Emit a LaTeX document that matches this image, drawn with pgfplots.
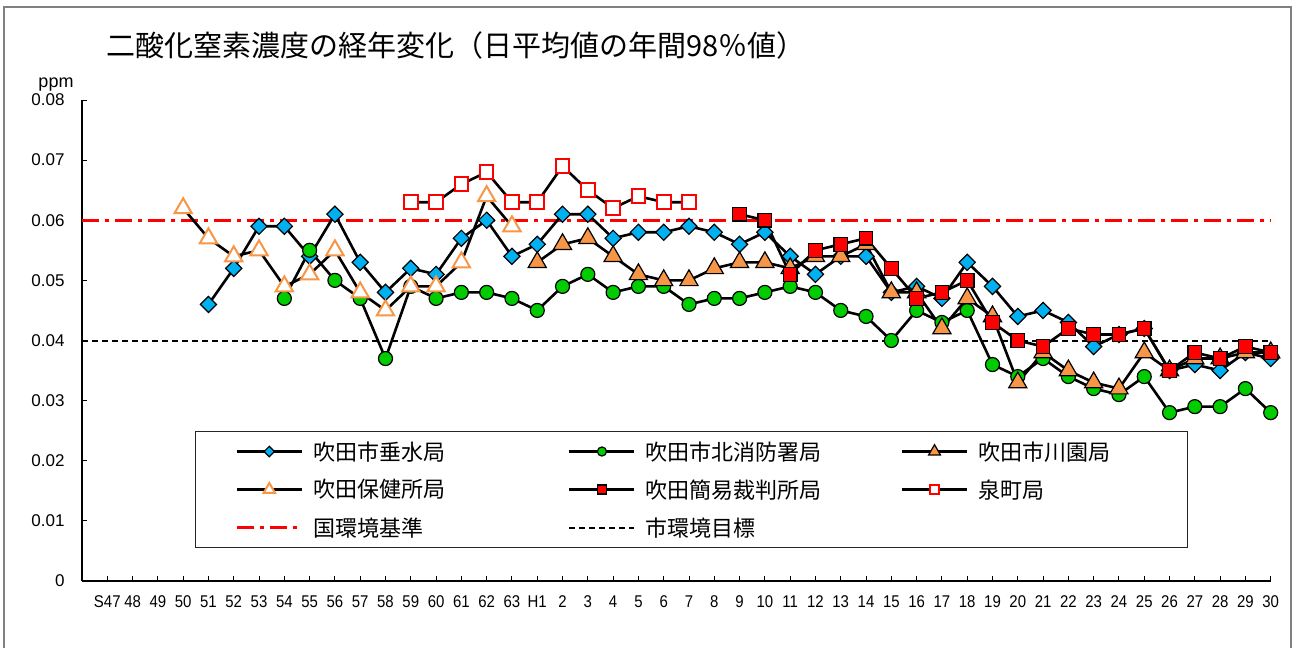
\documentclass[border=0pt]{standalone}
\usepackage{fontspec}
\usepackage{pgfplots}
\pgfplotsset{compat=1.18}
\setmainfont{Liberation Sans}
\newfontfamily\jp{Noto Sans CJK JP}
\newfontfamily\tickfont{Liberation Sans}
\newfontfamily\tickfontx[FakeStretch=0.88]{Liberation Sans}
\definecolor{cblue}{RGB}{0,176,240}
\definecolor{cgreen}{RGB}{0,204,0}
\definecolor{corange}{RGB}{247,150,70}
\definecolor{cred}{RGB}{255,0,0}
\begin{document}
\begin{tikzpicture}[x=1pt,y=1pt]
\useasboundingbox (0,0) rectangle (1296,648);
\draw[black!50, line width=1.5pt] (4,-10) -- (4,641) -- (1291,641) -- (1291,-10);
\node[anchor=west, inner sep=0pt, font=\jp\fontsize{29}{33}\selectfont] at (106,603) {二酸化窒素濃度の経年変化（日平均値の年間98％値）};
\node[inner sep=0pt, font=\tickfont\fontsize{18}{20}\selectfont] at (56,563) {ppm};
\begin{axis}[
  at={(82pt,67pt)}, anchor=south west,
  scale only axis, width=1188.7pt, height=481pt,
  xmin=-1, xmax=46, ymin=0, ymax=0.08,
  axis x line*=bottom, axis y line*=left,
  axis line style={-, line width=1.2pt, black},
  clip=false,
  tick align=inside, major tick length=5pt,
  tick style={line width=1pt, black},
  xtick={0,...,46},
  xticklabels={S47,48,49,50,51,52,53,54,55,56,57,58,59,60,61,62,63,H1,2,3,4,5,6,7,8,9,10,11,12,13,14,15,16,17,18,19,20,21,22,23,24,25,26,27,28,29,30},
  ytick={0,0.01,0.02,0.03,0.04,0.05,0.06,0.07,0.08},
  yticklabels={0,0.01,0.02,0.03,0.04,0.05,0.06,0.07,0.08},
  scaled y ticks=false,
  xticklabel style={font=\tickfontx\fontsize{17}{19}\selectfont, yshift=-11pt},
  yticklabel style={font=\tickfont\fontsize{17}{19}\selectfont, xshift=-14pt},
  legend columns=3,
  legend cell align=left,
  legend style={at={(rel axis cs:0.0951,0.0686)}, anchor=south west,
    draw=black!85, line width=1pt, inner xsep=40pt, inner ysep=1pt,
    column sep=0pt, row sep=0pt,
    font=\jp\fontsize{22}{24}\selectfont,
    nodes={inner xsep=10pt, inner ysep=0pt, minimum height=38pt}},
  legend image code/.code={\draw[mark repeat=2,mark phase=2,#1] plot coordinates {(0pt,0pt) (32.5pt,0pt) (65pt,0pt)};},
  legend image post style={every mark/.append style={scale=0.65}},
]
% reference lines (drawn underneath)
\addplot[forget plot, cred, line width=2.5pt, dash pattern=on 17pt off 6pt on 4pt off 6pt] coordinates {(-1,0.06) (46,0.06)};
\addplot[forget plot, black, line width=2pt, dash pattern=on 6pt off 4pt] coordinates {(-1,0.04) (46,0.04)};

% 吹田市垂水局
\addplot[black, line width=2.6pt, mark=square*, mark size=5.7pt, mark options={rotate=45, fill=cblue, draw=black, line width=1.2pt}] coordinates {
(4,0.046) (5,0.052) (6,0.059) (7,0.059) (8,0.054) (9,0.061) (10,0.053) (11,0.048) (12,0.052) (13,0.051)
(14,0.057) (15,0.060) (16,0.054) (17,0.056) (18,0.061) (19,0.061) (20,0.057) (21,0.058) (22,0.058) (23,0.059)
(24,0.058) (25,0.056) (26,0.058) (27,0.054) (28,0.051) (29,0.054) (30,0.054) (31,0.048) (32,0.049) (33,0.047)
(34,0.053) (35,0.049) (36,0.044) (37,0.045) (38,0.043) (39,0.039) (40,0.041) (41,0.042) (42,0.035) (43,0.036)
(44,0.035) (45,0.038) (46,0.037)};
\addlegendentry{\makebox[245pt][l]{吹田市垂水局}}

% 吹田市北消防署局
\addplot[black, line width=2.6pt, mark=*, mark size=7pt, mark options={fill=cgreen, draw=black, line width=1.2pt}] coordinates {
(7,0.047) (8,0.055) (9,0.050) (10,0.047) (11,0.037) (12,0.049) (13,0.047) (14,0.048) (15,0.048) (16,0.047)
(17,0.045) (18,0.049) (19,0.051) (20,0.048) (21,0.049) (22,0.049) (23,0.046) (24,0.047) (25,0.047) (26,0.048)
(27,0.049) (28,0.048) (29,0.045) (30,0.044) (31,0.040) (32,0.045) (33,0.043) (34,0.045) (35,0.036) (36,0.034)
(37,0.037) (38,0.034) (39,0.032) (40,0.031) (41,0.034) (42,0.028) (43,0.029) (44,0.029) (45,0.032) (46,0.028)};
\addlegendentry{\makebox[245pt][l]{吹田市北消防署局}}

% 吹田市川園局
\addplot[black, line width=2.6pt, mark=triangle*, mark size=10.5pt, mark options={fill=corange, draw=black, line width=1.2pt}] coordinates {
(17,0.053) (18,0.056) (19,0.057) (20,0.054) (21,0.051) (22,0.050) (23,0.050) (24,0.052) (25,0.053) (26,0.053)
(27,0.052) (28,0.054) (29,0.054) (30,0.056) (31,0.048) (32,0.048) (33,0.042) (34,0.047) (35,0.044) (36,0.033)
(37,0.038) (38,0.035) (39,0.033) (40,0.032) (41,0.038) (42,0.035) (43,0.037) (44,0.037) (45,0.038) (46,0.038)};
\addlegendentry{\makebox[159pt][l]{吹田市川園局}}

% 吹田保健所局
\addplot[black, line width=2.6pt, mark=triangle*, mark size=10pt, mark options={fill=white, draw=corange, line width=2pt}] coordinates {
(3,0.062) (4,0.057) (5,0.054) (6,0.055) (7,0.049) (8,0.051) (9,0.055) (10,0.048) (11,0.045) (12,0.049)
(13,0.049) (14,0.053) (15,0.064) (16,0.059)};
\addlegendentry{\makebox[245pt][l]{吹田保健所局}}

% 吹田簡易裁判所局
\addplot[black, line width=2.6pt, mark=square*, mark size=6.8pt, mark options={fill=cred, draw=black, line width=1.2pt}] coordinates {
(25,0.061) (26,0.060) (27,0.051) (28,0.055) (29,0.056) (30,0.057) (31,0.052) (32,0.047) (33,0.048) (34,0.050)
(35,0.043) (36,0.040) (37,0.039) (38,0.042) (39,0.041) (40,0.041) (41,0.042) (42,0.035) (43,0.038) (44,0.037)
(45,0.039) (46,0.038)};
\addlegendentry{\makebox[245pt][l]{吹田簡易裁判所局}}

% 泉町局
\addplot[black, line width=2.6pt, mark=square*, mark size=6.8pt, mark options={fill=white, draw=cred, line width=2pt}] coordinates {
(12,0.063) (13,0.063) (14,0.066) (15,0.068) (16,0.063) (17,0.063) (18,0.069) (19,0.065) (20,0.062) (21,0.064)
(22,0.063) (23,0.063)};
\addlegendentry{\makebox[159pt][l]{泉町局}}

\addlegendimage{cred, line width=2.5pt, dash pattern=on 17pt off 6pt on 4pt off 6pt}
\addlegendentry{\makebox[245pt][l]{国環境基準}}
\addlegendimage{black, line width=2pt, dash pattern=on 6pt off 4pt}
\addlegendentry{\makebox[245pt][l]{市環境目標}}
\end{axis}
\end{tikzpicture}
\end{document}
